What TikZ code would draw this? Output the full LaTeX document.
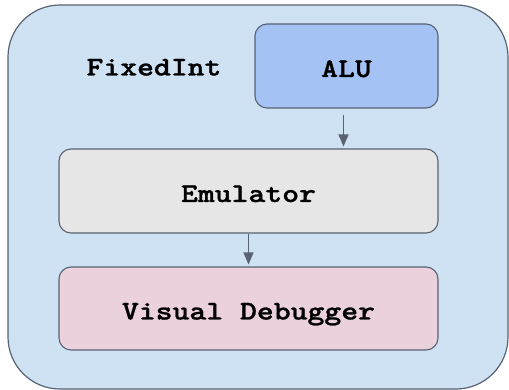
\documentclass[tikz,border=0pt]{standalone}
\usepackage{fontspec}
\newfontfamily\codefont{lmmonolt10-bold.otf}[FakeBold=1.0]
\usetikzlibrary{arrows.meta,calc}
\definecolor{outerfill}{HTML}{CFE2F3}
\definecolor{alufill}{HTML}{A4C2F4}
\definecolor{emufill}{HTML}{E6E6E6}
\definecolor{dbgfill}{HTML}{EAD1DC}
\definecolor{edge}{RGB}{88,98,114}
\newcommand{\codetext}[1]{\scalebox{1.19}[1]{#1}}
\tikzset{
  label font/.style={font=\fontsize{27}{30}\selectfont\codefont, text=black,
    text height=22pt, text depth=0pt},
  module/.style={draw=edge, line width=1.1pt, rounded corners=12pt, inner sep=0pt, label font},
  flow/.style={draw=edge, line width=1.3pt, -{Triangle[length=12pt,width=10pt]}},
}
\begin{document}
\begin{tikzpicture}[x=1pt,y=-1pt]
\useasboundingbox (0,0) rectangle (509,390);
% enclosing package
\draw[draw=edge, fill=outerfill, line width=1.2pt, rounded corners=52pt] (8,5) rectangle (508,389);
\node[label font, inner sep=0pt] (title) at (154,64.5) {\codetext{FixedInt}};
% components
\node[module, fill=alufill, minimum width=183pt, minimum height=84pt] (alu) at (346.5,66) {\codetext{ALU}};
\node[module, fill=emufill, minimum width=379pt, minimum height=84pt] (emu) at (248.5,191) {\codetext{Emulator}};
\node[module, fill=dbgfill, minimum width=379pt, minimum height=83pt] (dbg) at (248.5,308.5) {\codetext{Visual Debugger}};
% data flow
\draw[flow, shorten <=6pt, shorten >=2pt] ([xshift=-3pt]alu.south) -- ([xshift=-3pt]alu.south |- emu.north);
\draw[flow, shorten >=2pt] (emu.south) -- (dbg.north);
\end{tikzpicture}
\end{document}
